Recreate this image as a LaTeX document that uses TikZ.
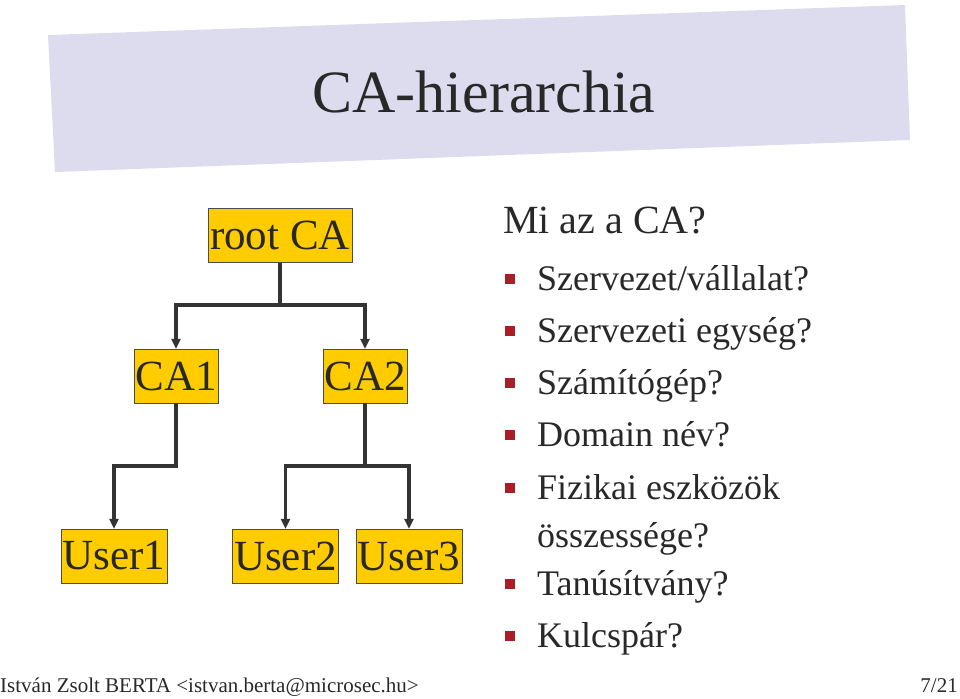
\documentclass[tikz,border=0pt]{standalone}
\usepackage{fontspec}
\setmainfont{Liberation Serif}
\usetikzlibrary{arrows.meta}
\definecolor{boxfill}{RGB}{255,204,0}
\definecolor{band}{RGB}{221,219,238}
\definecolor{bulletred}{RGB}{170,30,40}
\definecolor{inktext}{RGB}{40,40,40}
\tikzset{
  cabox/.style={draw=black!70,fill=boxfill,inner sep=0pt,minimum height=54pt,font=\fontsize{43}{43}\selectfont,text=inktext},
  link/.style={draw=black!80,line width=3.2pt,-{Triangle[length=10pt,width=9pt]}},
  item/.style={anchor=base west,font=\fontsize{36}{36}\selectfont,text=inktext,inner sep=0pt},
  bul/.style={fill=bulletred,minimum size=10pt,inner sep=0pt}
}
\begin{document}
\begin{tikzpicture}[x=1pt,y=-1pt]
\useasboundingbox (0,0) rectangle (960,698);
\fill[band] (48,35) -- (905,5) -- (910,140) -- (55,172) -- cycle;
\node[font=\fontsize{60}{60}\selectfont,text=inktext] (title) at (484,92) {CA-hierarchia};
%Tree
\node[cabox,minimum width=144pt] (root) at (280,235.5) {root CA};
\node[cabox,minimum width=84pt] (ca1) at (176,376) {CA1};
\node[cabox,minimum width=84pt] (ca2) at (365,376) {CA2};
\node[cabox,minimum width=106pt] (u1) at (114,556) {User1};
\node[cabox,minimum width=106pt] (u2) at (285.5,556) {User2};
\node[cabox,minimum width=106pt] (u3) at (409,556) {User3};
\draw[link] (root.south) |- (176,305) -- (ca1.north);
\draw[link] (root.south) |- (365,305) -- (ca2.north);
\draw[link] (ca1.south) |- (114,466) -- (u1.north);
\draw[link] (ca2.south) |- (285.5,466) -- (u2.north);
\draw[link] (ca2.south) |- (409,466) -- (u3.north);
%Text
\node[item,font=\fontsize{40}{40}\selectfont] (q) at (503,233) {Mi az a CA?};
\foreach \y/\t [count=\i] in {290/{Szervezet/vállalat?},342/{Szervezeti egység?},394/{Számítógép?},446/{Domain név?},499/{Fizikai eszközök},595/{Tanúsítvány?},647/{Kulcspár?}}{
  \node[bul] (b\i) at (510,\y-11) {};
  \node[item] (t\i) at (537,\y) {\t};
}
\node[item] (t8) at (537,547) {összessége?};
\node[anchor=base west,inner sep=0pt,font=\fontsize{21}{21}\selectfont,text=inktext] (foot) at (0,692) {István Zsolt BERTA <istvan.berta@microsec.hu>};
\node[anchor=base east,inner sep=0pt,font=\fontsize{21}{21}\selectfont,text=inktext] (page) at (958,692) {7/21};
\end{tikzpicture}
\end{document}
